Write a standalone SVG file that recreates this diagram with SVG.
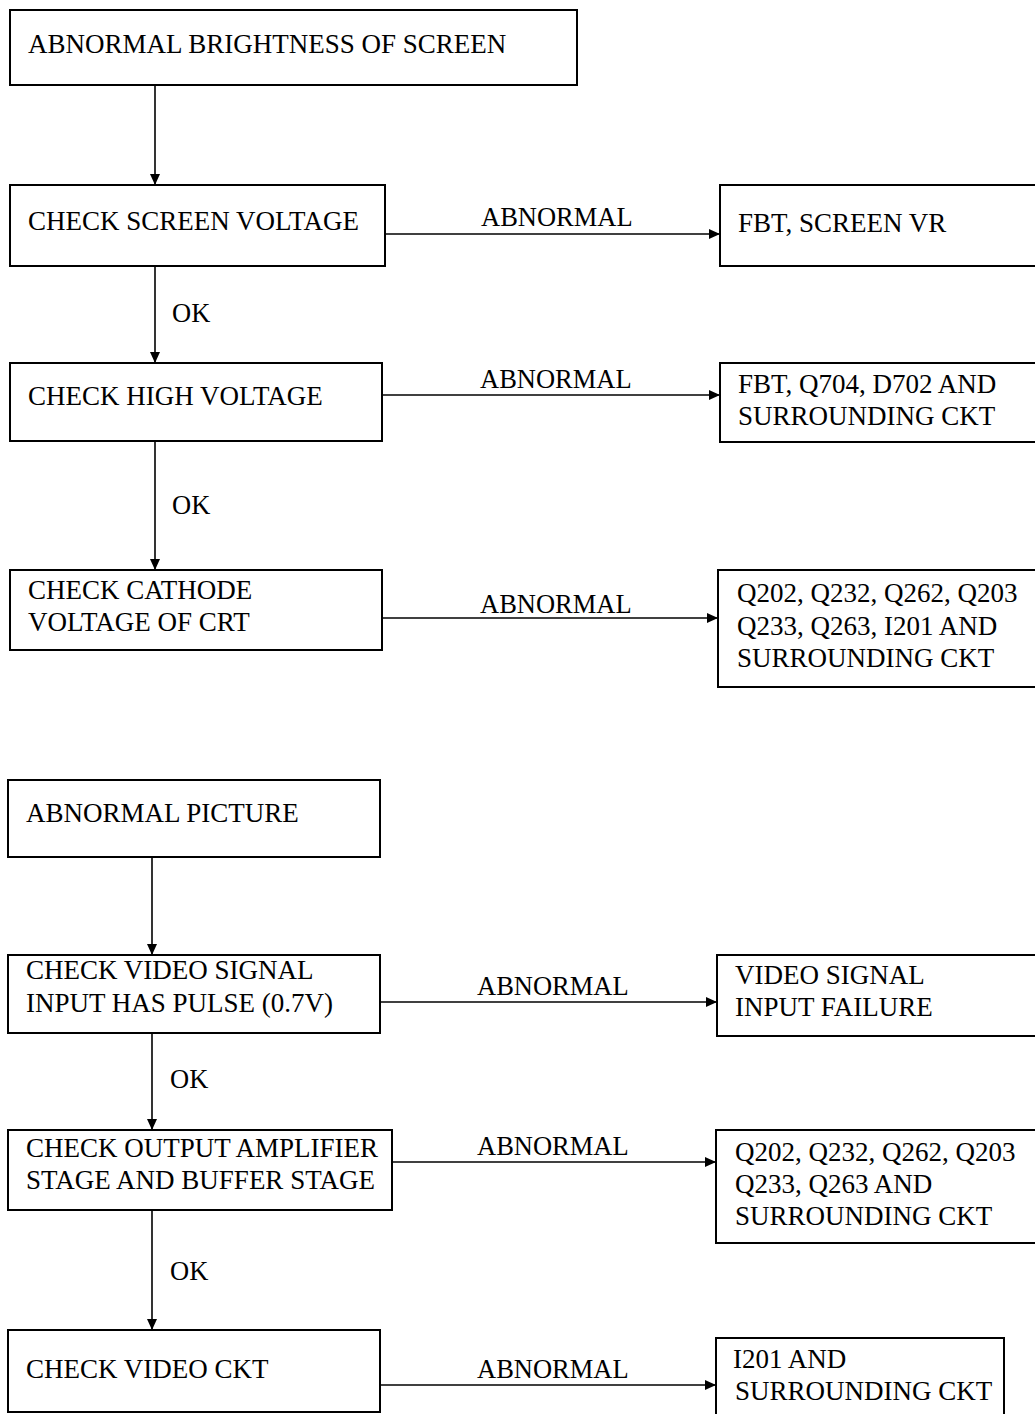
<svg xmlns="http://www.w3.org/2000/svg" width="1035" height="1414" viewBox="0 0 1035 1414">
<style>
.box{fill:#fff;stroke:#000;stroke-width:2}
.t{font-family:"Liberation Serif","Times New Roman",serif;font-size:27px;fill:#000}
.l{font-family:"Liberation Serif","Times New Roman",serif;font-size:26.5px;fill:#000}
.c{stroke:#000;stroke-width:1.6;fill:none;marker-end:url(#ah)}
</style>
<defs>
<marker id="ah" markerUnits="userSpaceOnUse" markerWidth="12" markerHeight="10" refX="11" refY="5" orient="auto">
<path d="M0,0 L11,5 L0,10 Z" fill="#000"/>
</marker>
</defs>
<rect width="1035" height="1414" fill="#fff"/>
<g id="connectors">
<line class="c" x1="155" y1="85" x2="155" y2="185"/>
<line class="c" x1="385" y1="234" x2="720" y2="234"/>
<line class="c" x1="155" y1="266" x2="155" y2="363"/>
<line class="c" x1="382" y1="395" x2="720" y2="395"/>
<line class="c" x1="155" y1="441" x2="155" y2="570"/>
<line class="c" x1="382" y1="618" x2="718" y2="618"/>
<line class="c" x1="152" y1="857" x2="152" y2="955"/>
<line class="c" x1="380" y1="1002" x2="717" y2="1002"/>
<line class="c" x1="152" y1="1033" x2="152" y2="1130"/>
<line class="c" x1="392" y1="1162" x2="716" y2="1162"/>
<line class="c" x1="152" y1="1210" x2="152" y2="1330"/>
<line class="c" x1="380" y1="1385" x2="716" y2="1385"/>
<text class="l" x="481" y="226">ABNORMAL</text>
<text class="l" x="480" y="388">ABNORMAL</text>
<text class="l" x="480" y="613">ABNORMAL</text>
<text class="l" x="477" y="995">ABNORMAL</text>
<text class="l" x="477" y="1155">ABNORMAL</text>
<text class="l" x="477" y="1378">ABNORMAL</text>
<text class="l" x="172" y="322">OK</text>
<text class="l" x="172" y="514">OK</text>
<text class="l" x="170" y="1088">OK</text>
<text class="l" x="170" y="1280">OK</text>
</g>
<g id="n1"><rect class="box" x="10" y="10" width="567" height="75"/><text class="t" x="28" y="53">ABNORMAL BRIGHTNESS OF SCREEN</text></g>
<g id="n2"><rect class="box" x="10" y="185" width="375" height="81"/><text class="t" x="28" y="230">CHECK SCREEN VOLTAGE</text></g>
<g id="n3"><rect class="box" x="720" y="185" width="330" height="81"/><text class="t" x="738" y="232">FBT, SCREEN VR</text></g>
<g id="n4"><rect class="box" x="10" y="363" width="372" height="78"/><text class="t" x="28" y="405">CHECK HIGH VOLTAGE</text></g>
<g id="n5"><rect class="box" x="720" y="363" width="330" height="79"/><text class="t" x="738" y="393">FBT, Q704, D702 AND</text><text class="t" x="738" y="425">SURROUNDING CKT</text></g>
<g id="n6"><rect class="box" x="10" y="570" width="372" height="80"/><text class="t" x="28" y="599">CHECK CATHODE</text><text class="t" x="28" y="631">VOLTAGE OF CRT</text></g>
<g id="n7"><rect class="box" x="718" y="570" width="332" height="117"/><text class="t" x="737" y="602">Q202, Q232, Q262, Q203</text><text class="t" x="737" y="635">Q233, Q263, I201 AND</text><text class="t" x="737" y="667">SURROUNDING CKT</text></g>
<g id="n8"><rect class="box" x="8" y="780" width="372" height="77"/><text class="t" x="26" y="822">ABNORMAL PICTURE</text></g>
<g id="n9"><rect class="box" x="8" y="955" width="372" height="78"/><text class="t" x="26" y="979">CHECK VIDEO SIGNAL</text><text class="t" x="26" y="1012">INPUT HAS PULSE (0.7V)</text></g>
<g id="n10"><rect class="box" x="717" y="955" width="333" height="81"/><text class="t" x="735" y="984">VIDEO SIGNAL</text><text class="t" x="735" y="1016">INPUT FAILURE</text></g>
<g id="n11"><rect class="box" x="8" y="1130" width="384" height="80"/><text class="t" x="26" y="1157">CHECK OUTPUT AMPLIFIER</text><text class="t" x="26" y="1189">STAGE AND BUFFER STAGE</text></g>
<g id="n12"><rect class="box" x="716" y="1130" width="334" height="113"/><text class="t" x="735" y="1161">Q202, Q232, Q262, Q203</text><text class="t" x="735" y="1193">Q233, Q263 AND</text><text class="t" x="735" y="1225">SURROUNDING CKT</text></g>
<g id="n13"><rect class="box" x="8" y="1330" width="372" height="82"/><text class="t" x="26" y="1378">CHECK VIDEO CKT</text></g>
<g id="n14"><rect class="box" x="716" y="1338" width="288" height="90"/><text class="t" x="733" y="1368">I201 AND</text><text class="t" x="735" y="1400">SURROUNDING CKT</text></g>
</svg>
